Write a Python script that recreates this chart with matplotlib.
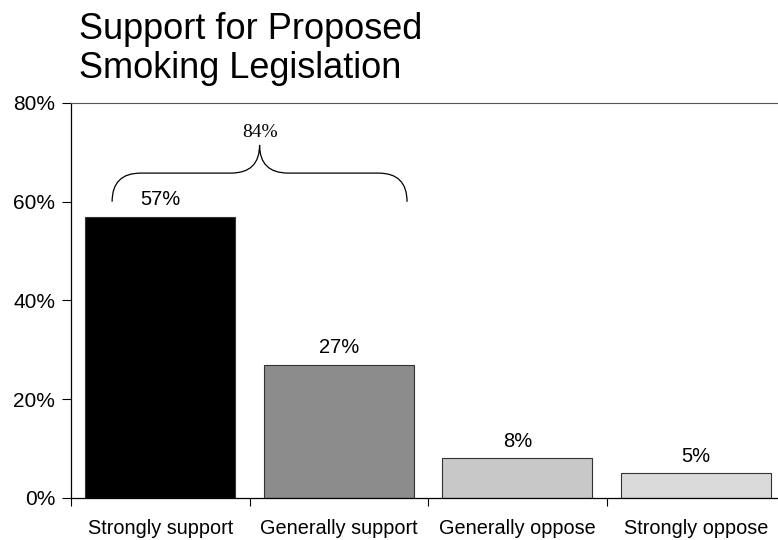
import matplotlib
matplotlib.use("Agg")
import matplotlib.pyplot as plt
from matplotlib.path import Path
from matplotlib.patches import PathPatch
from matplotlib.ticker import FuncFormatter

categories = ["Strongly support", "Generally support", "Generally oppose", "Strongly oppose"]
values = [57, 27, 8, 5]
bar_colors = ["#000000", "#8c8c8c", "#c8c8c8", "#dadada"]
y_ticks = [0, 20, 40, 60, 80]

plt.rcParams["font.family"] = ["Liberation Sans", "DejaVu Sans"]

fig = plt.figure(figsize=(7.78, 5.4), dpi=100)
ax = fig.add_axes([0.0913, 0.0778, 0.918, 0.7315])

x = list(range(len(categories)))
ax.bar(x, values, width=0.84, color=bar_colors, edgecolor="#333333", linewidth=0.8)

for xi, v in zip(x, values):
    ax.text(xi, v + 3.4, "{}%".format(v), ha="center", va="center", fontsize=14.5)

ax.set_xlim(-0.5, len(categories) - 0.5)
ax.set_ylim(0, 80)
ax.set_yticks(y_ticks)
ax.yaxis.set_major_formatter(FuncFormatter(lambda v, p: "{:.0f}%".format(v)))
ax.tick_params(axis="y", labelsize=15, length=6.5, width=0.8, pad=5)

ax.set_xticks(x)
ax.set_xticklabels(categories, fontsize=14.3)
ax.set_xticks([i - 0.5 for i in range(len(categories) + 1)], minor=True)
ax.tick_params(axis="x", which="major", length=0, pad=15)
ax.tick_params(axis="x", which="minor", length=6, width=0.8, direction="out")

ax.spines["right"].set_visible(False)
ax.spines["top"].set_color("#555555")
for s in ["left", "bottom"]:
    ax.spines[s].set_color("black")
    ax.spines[s].set_linewidth(0.9)

# curly brace over the two "support" bars
x0, x1 = -0.27, 1.382
xc = (x0 + x1) / 2
y_end, y_flat, y_peak = 60.0, 65.8, 71.5
r = 0.16
verts = [
    (x0, y_end), (x0, y_flat), (x0 + r, y_flat),
    (xc - r, y_flat),
    (xc, y_flat), (xc, y_peak),
    (xc, y_flat), (xc + r, y_flat),
    (x1 - r, y_flat),
    (x1, y_flat), (x1, y_end),
]
codes = [
    Path.MOVETO, Path.CURVE3, Path.CURVE3,
    Path.LINETO,
    Path.CURVE3, Path.CURVE3,
    Path.CURVE3, Path.CURVE3,
    Path.LINETO,
    Path.CURVE3, Path.CURVE3,
]
ax.add_patch(PathPatch(Path(verts, codes), fill=False, lw=0.9, color="black"))
ax.text(xc, 74, "{}%".format(values[0] + values[1]), ha="center", va="center",
        fontsize=14, family=["Liberation Serif", "DejaVu Serif"])

fig.text(0.101, 0.978, "Support for Proposed\nSmoking Legislation", fontsize=26,
         ha="left", va="top", linespacing=1.15)

fig.savefig("out.png", dpi=100)
